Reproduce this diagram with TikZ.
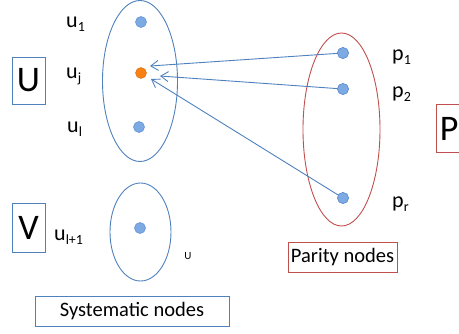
\documentclass[tikz,border=0pt]{standalone}
\usepackage{fontspec}
\setmainfont{Carlito}
\usetikzlibrary{shapes.geometric,arrows.meta}
\definecolor{lblue}{HTML}{4F81BD}
\definecolor{lred}{HTML}{C0504D}
\definecolor{dotfill}{HTML}{7DAAE3}
\definecolor{dotedge}{HTML}{5B8BD0}
\definecolor{dotorange}{HTML}{F98012}
\newcommand\subs[1]{\raisebox{-0.45ex}{\fontsize{14}{14}\selectfont #1}}
\begin{document}
\begin{tikzpicture}[x=1pt,y=-1pt,
  setblue/.style={ellipse,draw=lblue,line width=0.9pt,inner sep=0pt},
  setred/.style={ellipse,draw=lred,line width=0.9pt,inner sep=0pt},
  dot/.style={circle,inner sep=0pt,minimum size=11pt,fill=dotfill,draw=dotedge,line width=0.5pt},
  odot/.style={circle,inner sep=0pt,minimum size=11pt,fill=dotorange,draw=dotorange!85!black,line width=0.4pt},
  lbl/.style={anchor=base west,inner sep=0pt,font=\fontsize{22}{22}\selectfont},
  bigbox/.style={draw,line width=0.9pt,minimum width=33pt,inner sep=0pt,font=\fontsize{36}{36}\selectfont},
  capbox/.style={draw,line width=0.9pt,inner sep=0pt,font=\fontsize{20.5}{20.5}\selectfont},
  edge/.style={draw=lblue,line width=0.9pt,-{Straight Barb[length=7.5pt,width=10pt,line width=0.9pt]}}
]
\useasboundingbox (0,0) rectangle (459,333);
% sets
\node[setblue,minimum width=75pt,minimum height=161pt] (Uset) at (140,81) {};
\node[setblue,minimum width=61pt,minimum height=98pt] (Vset) at (140.5,232) {};
\node[setred,minimum width=77pt,minimum height=193pt] (Pset) at (341.5,129.5) {};
% dots
\node[dot] (u1) at (141,22) {};
\node[odot] (uj) at (141,73) {};
\node[dot] (ul) at (139,127) {};
\node[dot] (ul1) at (140,228) {};
\node[dot] (p1) at (343,53) {};
\node[dot] (p2) at (343,89) {};
\node[dot] (pr) at (343,198) {};
% labels
\node[lbl] (lu1) at (66,27) {u\subs{1}};
\node[lbl] (luj) at (66,78) {u\subs{j}};
\node[lbl] (lul) at (67,132) {u\subs{l}};
\node[lbl] (lul1) at (54,240) {u\subs{l+1}};
\node[lbl] (lp1) at (392,60) {p\subs{1}};
\node[lbl] (lp2) at (392,97) {p\subs{2}};
\node[lbl] (lpr) at (392,207) {p\subs{r}};
\node[anchor=base,inner sep=0pt,font=\fontsize{11}{11}\selectfont] (small) at (188,259) {U};
% boxes
\node[bigbox,draw=lblue,minimum height=47pt] (U) at (28.5,80.5) {U};
\node[bigbox,draw=lblue,minimum height=49pt] (V) at (28.5,227.5) {V};
\node[bigbox,draw=lred,minimum height=48pt,anchor=north west,inner xsep=3.5pt,text width=32pt,align=left] (P) at (436,104) {P};
\node[capbox,draw=lblue,minimum width=194pt,minimum height=30pt] (sys) at (132,311) {Systematic nodes};
\node[capbox,draw=lred,minimum width=109pt,minimum height=30pt] (par) at (342.5,257) {Parity nodes};
% arrows
\coordinate (a1) at (150,66);
\coordinate (a2) at (160,76);
\coordinate (a3) at (151,79);
\draw[edge] (p1.center) -- (a1);
\draw[edge] (p2.center) -- (a2);
\draw[edge] (pr.center) -- (a3);
\node[dot] at (p1) {};
\node[dot] at (p2) {};
\node[dot] at (pr) {};
\end{tikzpicture}
\end{document}
